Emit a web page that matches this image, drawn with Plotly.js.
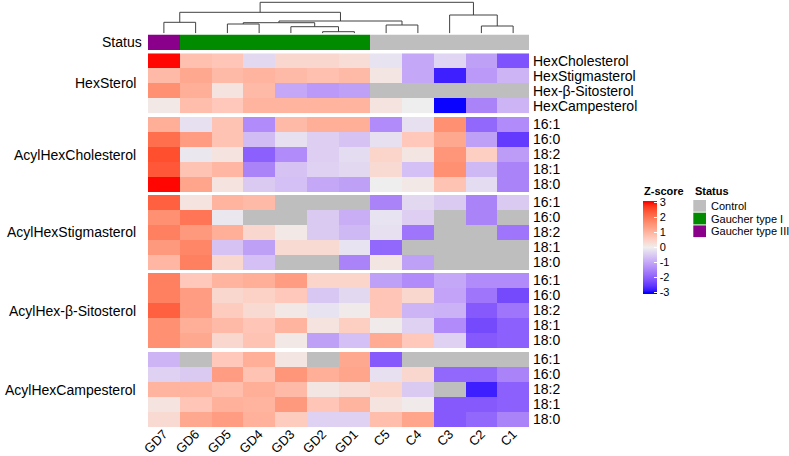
<!DOCTYPE html>
<html>
<head>
<meta charset="utf-8">
<script src="https://cdn.plot.ly/plotly-3.0.1.min.js"></script>
<style>html,body{margin:0;padding:0;background:#fff;}#chart{width:789px;height:456px;}</style>
</head>
<body>
<div id="chart"></div>
<script>
// ---------------- DATA ----------------
const samples = ['GD7','GD6','GD5','GD4','GD3','GD2','GD1','C5','C4','C3','C2','C1'];
const sampleStatus = ['Gaucher type III','Gaucher type I','Gaucher type I','Gaucher type I','Gaucher type I','Gaucher type I','Gaucher type I','Control','Control','Control','Control','Control'];
const statusLevels = ['Control','Gaucher type I','Gaucher type III'];
const statusColors = ['#BEBEBE','#008B00','#8B008B'];

const groupNames = ['HexSterol','AcylHexCholesterol','AcylHexStigmasterol','AcylHex-β-Sitosterol','AcylHexCampesterol'];
const hexSterolRows = ['HexCholesterol','HexStigmasterol','Hex-β-Sitosterol','HexCampesterol'];
const acylRows = ['16:1','16:0','18:2','18:1','18:0'];

// z-scores, columns in sample order; null = not detected (grey)
const hexSterolZ = [
  [3.0, 0.8, 0.7, -0.3, 0.4, 0.4, 0.3, -0.15, -1.0, -0.35, -1.1, -2.2],
  [0.9, 1.2, 0.9, 1.0, 0.9, 0.8, 0.9, 0.15, -1.0, -2.8, -1.2, -0.8],
  [1.6, 1.1, 0.2, 0.9, -1.0, -1.2, -1.1, null, null, null, null, null],
  [0.1, 0.85, 0.65, 1.0, 1.0, 1.0, 1.0, 0.2, 0.0, -3.0, -1.5, -0.8]
];
const acylHexCholesterolZ = [
  [1.1, -0.2, 0.75, -1.4, 0.9, 1.1, 1.1, -1.4, -0.2, 1.6, -1.9, -1.4],
  [2.1, 1.4, 0.75, -0.7, -0.2, -0.45, -0.6, -0.2, 0.65, 1.2, -1.1, -2.5],
  [2.5, -0.1, 0.2, -2.0, -1.4, -0.45, -0.25, 0.45, 0.15, 1.5, 0.55, -1.15],
  [2.4, 0.75, 0.95, -1.5, -0.6, -0.4, -0.3, 0.35, -0.65, 1.6, -0.75, -1.5],
  [3.0, 1.25, 0.2, -0.5, -0.65, -1.0, -1.1, 0.0, 0.1, 0.75, -0.25, -1.5]
];
const acylHexStigmasterolZ = [
  [2.3, 0.2, 1.0, 0.9, null, null, null, -1.5, -0.3, -0.5, -1.5, -0.5],
  [1.6, 2.0, -0.1, null, null, -0.5, -0.9, -0.15, -0.45, null, -1.5, null],
  [1.85, 1.45, 1.1, 0.4, 0.1, -0.5, -0.75, -0.2, -1.7, null, null, -1.7],
  [1.45, 1.75, -0.6, -1.1, 0.35, 0.35, -0.15, -1.9, null, null, null, null],
  [0.95, 1.85, 0.4, -0.65, null, null, -1.5, 0.15, -1.1, null, null, null]
];
const acylHexSitosterolZ = [
  [1.85, 0.65, 1.0, 1.1, 1.4, 0.45, 0.45, -1.1, -1.4, -1.0, -1.4, -1.4],
  [1.85, 1.4, 0.4, 0.5, 0.65, -0.55, -0.3, 0.7, 0.4, -1.05, -1.7, -2.3],
  [2.3, 1.4, 0.6, 0.35, 0.1, -0.15, 0.05, 0.7, -0.8, -0.85, -2.1, -1.7],
  [1.6, 1.1, 0.9, 0.7, 1.0, 0.2, 0.55, 0.05, -0.4, -1.4, -2.3, -2.0],
  [1.6, 1.2, 0.4, 0.75, 0.1, -1.1, -0.65, 1.15, 0.65, -0.4, -2.1, -2.0]
];
const acylHexCampesterolZ = [
  [-0.8, null, 0.65, 1.1, 0.15, null, 1.2, -2.1, null, null, null, null],
  [-0.4, -0.5, 1.4, 0.75, 1.5, 1.1, 1.25, -0.2, 0.4, -1.9, -1.9, -1.5],
  [1.0, 1.0, 0.85, 1.1, 0.9, 0.15, 0.3, 0.45, -0.5, null, -2.8, -2.0],
  [0.2, 0.7, 1.05, 1.0, 1.45, 0.7, 1.0, 0.2, 0.05, -2.1, -2.1, -2.0],
  [0.35, 1.2, 1.4, 1.05, 0.6, -0.4, -0.4, 0.85, 1.25, -2.1, -1.9, -1.5]
];
const groupRows = [hexSterolRows, acylRows, acylRows, acylRows, acylRows];
const groupZ = [hexSterolZ, acylHexCholesterolZ, acylHexStigmasterolZ, acylHexSitosterolZ, acylHexCampesterolZ];

// column dendrogram: [left, right, height]; numbers = leaf index, 'mK' = merge K
const dendroMerges = [
  [5, 6, 1.6],
  [4, 'm0', 6.6],
  [10, 11, 7.3],
  [7, 8, 8.3],
  [2, 3, 9.3],
  ['m4', 'm1', 10.6],
  [0, 1, 11.0],
  ['m5', 'm3', 12.3],
  [9, 'm2', 18.3],
  ['m6', 'm7', 21.0],
  ['m9', 'm8', 31.0]
];
const zTicks = [-3, -2, -1, 0, 1, 2, 3];

// ---------------- STYLE / LAYOUT HELPERS ----------------
const W = 789, H = 456;
const FONT = '"Liberation Sans", Arial, Helvetica, sans-serif';
const px2y = p => 1 - p / H;
const px2x = p => p / W;
const heatLeft = 148, heatRight = 529;
const dendroBox = [0, 33.3];
const statusBox = [34.5, 50];
const groupBoxes = [[53.3, 113.3], [117, 192], [195, 270], [273, 348], [352, 427]];
const ZMIN = -3.1, ZMAX = 3.1;

// LAB interpolation (like circlize::colorRamp2)
function lin(c){ c/=255; return c<=0.04045 ? c/12.92 : Math.pow((c+0.055)/1.055, 2.4); }
function unlin(c){ c=Math.max(0,Math.min(1,c)); return Math.round(255*(c<=0.0031308 ? 12.92*c : 1.055*Math.pow(c,1/2.4)-0.055)); }
function hex2rgb(h){ return [parseInt(h.slice(1,3),16),parseInt(h.slice(3,5),16),parseInt(h.slice(5,7),16)]; }
function rgb2lab(rgb){
  const [r,g,b] = rgb.map(lin);
  let X=(0.4124*r+0.3576*g+0.1805*b)/0.95047, Y=(0.2126*r+0.7152*g+0.0722*b), Z=(0.0193*r+0.1192*g+0.9505*b)/1.08883;
  const f = t => t>0.008856 ? Math.cbrt(t) : 7.787*t+16/116;
  const fx=f(X), fy=f(Y), fz=f(Z);
  return [116*fy-16, 500*(fx-fy), 200*(fy-fz)];
}
function lab2rgb(lab){
  const fy=(lab[0]+16)/116, fx=fy+lab[1]/500, fz=fy-lab[2]/200;
  const fi = t => { const t3=t*t*t; return t3>0.008856 ? t3 : (t-16/116)/7.787; };
  const X=fi(fx)*0.95047, Y=fi(fy), Z=fi(fz)*1.08883;
  const r=3.2406*X-1.5372*Y-0.4986*Z, g=-0.9689*X+1.8758*Y+0.0415*Z, b=0.0557*X-0.2040*Y+1.0570*Z;
  return 'rgb('+unlin(r)+','+unlin(g)+','+unlin(b)+')';
}
const labBlue = rgb2lab(hex2rgb('#0000FF')), labMid = rgb2lab(hex2rgb('#EEEEEE')), labRed = rgb2lab(hex2rgb('#FF0000'));
function zColor(z){
  const zc = Math.max(-3, Math.min(3, z));
  const t = Math.abs(zc)/3, end = zc<0 ? labBlue : labRed;
  return lab2rgb([0,1,2].map(i => labMid[i] + (end[i]-labMid[i])*t));
}
const colorscale = [];
for (let i=0;i<=80;i++){ const f=i/80; colorscale.push([f, zColor(ZMIN + f*(ZMAX-ZMIN))]); }

// ---------------- TRACES ----------------
const traces = [];
const xIdx = samples.map((_, i) => i);

// dendrogram
const pos = {}, hgt = {};
const dx = [], dy = [];
const getP = k => (typeof k === 'number') ? [k, 0] : [pos[k], hgt[k]];
dendroMerges.forEach((m, i) => {
  const [a, b, h] = m;
  const [xa, ha] = getP(a), [xb, hb] = getP(b);
  dx.push(xa, xa, xb, xb, null); dy.push(ha, h, h, hb, null);
  pos['m'+i] = (xa+xb)/2; hgt['m'+i] = h;
});
traces.push({type:'scatter', mode:'lines', x:dx, y:dy, xaxis:'x', yaxis:'y',
  line:{color:'#404040', width:1}, hoverinfo:'skip', showlegend:false});

// status bar
traces.push({type:'heatmap', x:xIdx, y:[0], z:[sampleStatus.map(s => statusLevels.indexOf(s))],
  zmin:0, zmax:2, colorscale: statusColors.map((c,i)=>[i/2,c]), showscale:false,
  xaxis:'x', yaxis:'y2', hoverinfo:'skip', xgap:0, ygap:0});

// groups
groupZ.forEach((Z, g) => {
  const rows = groupRows[g];
  const ya = 'y' + (g+3);
  traces.push({type:'heatmap', x:xIdx, y:rows.map((_,i)=>i),
    z: Z.map(r => r.map(v => v===null ? 1 : null)),
    zmin:0, zmax:1, colorscale:[[0,'#BEBEBE'],[1,'#BEBEBE']], showscale:false,
    xaxis:'x', yaxis:ya, hoverinfo:'skip'});
  traces.push({type:'heatmap', x:xIdx, y:rows.map((_,i)=>i), z:Z,
    coloraxis:'coloraxis', xaxis:'x', yaxis:ya, hoverinfo:'skip'});
});

// ---------------- LAYOUT ----------------
const layout = {
  width: W, height: H,
  margin: {l:0, r:0, t:0, b:0, pad:0},
  paper_bgcolor:'#fff', plot_bgcolor:'#fff',
  font: {family: FONT, size: 14, color:'#000'},
  showlegend: false,
  xaxis: {domain:[px2x(heatLeft), px2x(heatRight)], range:[-0.5, samples.length-0.5], anchor:'y7',
    tickvals: xIdx, ticktext: samples, tickangle:-45, ticks:'', showgrid:false, zeroline:false, showline:false,
    ticklabelstandoff:-4,
    tickfont:{family:FONT, size:13, color:'#000'}, fixedrange:true, automargin:false},
  yaxis: {domain:[px2y(dendroBox[1]), px2y(dendroBox[0])], range:[0, 33.3], anchor:'x',
    visible:false, fixedrange:true},
  yaxis2: {domain:[px2y(statusBox[1]), px2y(statusBox[0])], range:[-0.5,0.5], anchor:'x',
    showticklabels:false, ticks:'', showgrid:false, zeroline:false, showline:false},
  coloraxis: {cmin:ZMIN, cmax:ZMAX, colorscale: colorscale,
    colorbar: {x:px2x(643), xanchor:'left', xpad:0, ypad:0, y:px2y(247.5), yanchor:'middle',
      thickness:14, thicknessmode:'pixels', len:93, lenmode:'pixels', outlinewidth:0,
      tickmode:'array', tickvals:zTicks, ticktext:zTicks.map(String), ticks:'inside', ticklen:3,
      tickcolor:'#fff', tickwidth:1, tickfont:{family:FONT, size:11, color:'#000'}}},
  annotations: [], shapes: []
};
groupBoxes.forEach((box, g) => {
  const rows = groupRows[g];
  layout['yaxis' + (g+3)] = {domain:[px2y(box[1]), px2y(box[0])], range:[rows.length-0.5, -0.5],
    anchor:'x', side:'right', tickvals: rows.map((_,i)=>i), ticktext: rows, ticks:'',
    ticklabelstandoff:3,
    showgrid:false, zeroline:false, showline:false, fixedrange:true, automargin:false,
    tickfont:{family:FONT, size:14, color:'#000'}};
  layout.annotations.push({xref:'paper', yref:'paper', x:px2x(138), y:px2y((box[0]+box[1])/2),
    xanchor:'right', yanchor:'middle', text:groupNames[g], showarrow:false,
    font:{family:FONT, size:14, color:'#000'}});
});
layout.annotations.push({xref:'paper', yref:'paper', x:px2x(144), y:px2y((statusBox[0]+statusBox[1])/2),
  xanchor:'right', yanchor:'middle', text:'Status', showarrow:false, font:{family:FONT, size:14, color:'#000'}});
// legend titles
layout.annotations.push({xref:'paper', yref:'paper', x:px2x(642), y:px2y(191), xanchor:'left', yanchor:'middle',
  text:'<b>Z-score</b>', showarrow:false, font:{family:FONT, size:11, color:'#000'}});
layout.annotations.push({xref:'paper', yref:'paper', x:px2x(693), y:px2y(191), xanchor:'left', yanchor:'middle',
  text:'<b>Status</b>', showarrow:false, font:{family:FONT, size:11, color:'#000'}});
statusLevels.forEach((lv, i) => {
  const top = 200 + i*12.7;
  layout.shapes.push({type:'rect', xref:'paper', yref:'paper', x0:px2x(693.3), x1:px2x(706),
    y0:px2y(top+11.7), y1:px2y(top), fillcolor:statusColors[i], line:{width:0}});
  layout.annotations.push({xref:'paper', yref:'paper', x:px2x(709), y:px2y(top+6), xanchor:'left', yanchor:'middle',
    text:lv, showarrow:false, font:{family:FONT, size:11, color:'#000'}});
});

Plotly.newPlot('chart', traces, layout, {staticPlot:true, displayModeBar:false});
</script>
</body>
</html>
